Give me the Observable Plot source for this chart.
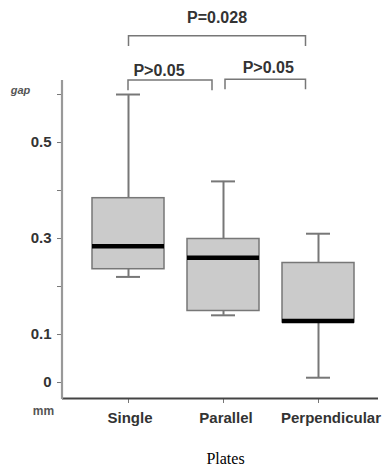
<!DOCTYPE html>
<html><head><meta charset="utf-8">
<script src="https://cdn.jsdelivr.net/npm/d3@7"></script>
<script src="https://cdn.jsdelivr.net/npm/@observablehq/plot@0.6"></script>
<style>
body{margin:0;background:#fff}
#chart svg{display:block}
</style></head><body><div id="chart"></div>
<script>
// ---- data ----
const categories = ["Single", "Parallel", "Perpendicular"];
const whiskerLow = [0.220, 0.140, 0.010];
const quartile1 = [0.236, 0.149, 0.125];
const median = [0.284, 0.260, 0.128];
const quartile3 = [0.384, 0.299, 0.249];
const whiskerHigh = [0.600, 0.419, 0.310];
const yTicks = [0, 0.1, 0.2, 0.3, 0.4, 0.5, 0.6];
const yTickLabels = ["0", "0.1", "", "0.3", "", "0.5", ""];
const comparisonFrom = ["Single", "Parallel", "Single"];
const comparisonTo = ["Parallel", "Perpendicular", "Perpendicular"];
const comparisonLabels = ["P>0.05", "P>0.05", "P=0.028"];
const xTitle = "Plates";
const yUnitTop = "gap";
const yUnitBottom = "mm";

// ---- layout / style ----
const yDomain = [-0.0333, 0.6292];
const xLabelDx = [1.5, 2.5, 12.5];
const bracketLayout = [
  {level: 0.629, drop: 0.021, startDx: 0, endDx: -11, labelDx: -11, labelDy: -4},
  {level: 0.631, drop: 0.021, startDx: 2, endDx: -12.5, labelDx: 3, labelDy: -6},
  {level: 0.7215, drop: 0.0215, startDx: 0.5, endDx: -12.5, labelDx: 0, labelDy: -12.5}
];
const lineColor = "#777";
const textColor = "#333";
const sans = "'Liberation Sans', Arial, sans-serif";

const data = categories.map((c, i) => ({
  cat: c, lo: whiskerLow[i], q1: quartile1[i], med: median[i], q3: quartile3[i], hi: whiskerHigh[i]
}));

const xLabelMarks = categories.map((c, i) => Plot.text([c], {
  x: d => d, frameAnchor: "bottom", dy: 24, dx: xLabelDx[i],
  fontSize: 15, fontWeight: "bold", fill: textColor
}));

const plot = Plot.plot({
  width: 388, height: 472,
  marginLeft: 62, marginRight: 10, marginTop: 80, marginBottom: 74,
  style: {fontFamily: sans, fontSize: "15px", fontWeight: "bold", color: textColor, background: "#fff", overflow: "visible"},
  x: {domain: categories, type: "band", paddingInner: 0.246, paddingOuter: 0.2775, align: 0.557,
      tickSize: 5, tickFormat: () => "", label: null},
  y: {domain: yDomain, ticks: yTicks, tickFormat: d => { const k = yTicks.indexOf(d); return k >= 0 ? yTickLabels[k] : ""; },
      tickSize: 5, tickPadding: 6, label: null},
  marks: [
    Plot.ruleY([yDomain[0]], {stroke: "#444", strokeWidth: 2.2}),
    Plot.ruleX(data, {x: "cat", y1: "q3", y2: "hi", stroke: lineColor, strokeWidth: 2}),
    Plot.ruleX(data, {x: "cat", y1: "lo", y2: "q1", stroke: lineColor, strokeWidth: 2}),
    Plot.tickY(data, {x: "cat", y: "hi", insetLeft: 24, insetRight: 24, stroke: lineColor, strokeWidth: 2}),
    Plot.tickY(data, {x: "cat", y: "lo", insetLeft: 24, insetRight: 24, stroke: lineColor, strokeWidth: 2}),
    Plot.barY(data, {x: "cat", y1: "q1", y2: "q3", fill: "#cbcbcb", stroke: lineColor, strokeWidth: 1.5}),
    Plot.tickY(data, {x: "cat", y: "med", stroke: "#000", strokeWidth: 4.5}),
    ...xLabelMarks,
    Plot.text([xTitle], {frameAnchor: "bottom", dy: 65, dx: 5, fontFamily: "'Liberation Serif', 'Times New Roman', serif",
      fontWeight: "normal", fontSize: 16, fill: "#000"}),
    Plot.text([yUnitTop], {frameAnchor: "top-left", textAnchor: "middle", dx: -42, dy: 6, fontSize: 11,
      fontStyle: "italic", fontWeight: "bold", fill: "#555"}),
    Plot.text([yUnitBottom], {frameAnchor: "bottom-left", textAnchor: "middle", dx: -19, dy: 16, fontSize: 12,
      fontWeight: "bold", fill: "#555"})
  ]
});

const sx = plot.scale("x"), sy = plot.scale("y");
const svg = d3.select(plot);

// y axis line along the left edge of the x range, spanning the y range
svg.append("line")
  .attr("x1", sx.range[0]).attr("x2", sx.range[0])
  .attr("y1", sy.range[1]).attr("y2", sy.range[0] + 1)
  .attr("stroke", "#999").attr("stroke-width", 2.2);

// Significance brackets, positioned through the plot's own x and y scales
const cx = c => sx.apply(c) + sx.bandwidth / 2;
const g = svg.append("g").attr("aria-label", "brackets");
comparisonLabels.forEach((label, i) => {
  const L = bracketLayout[i];
  const x1 = cx(comparisonFrom[i]) + L.startDx;
  const x2 = cx(comparisonTo[i]) + L.endDx;
  const yTop = sy.apply(L.level);
  const yBot = sy.apply(L.level - L.drop);
  g.append("path")
    .attr("d", `M${x1},${yBot}V${yTop}H${x2}V${yBot}`)
    .attr("fill", "none").attr("stroke", lineColor).attr("stroke-width", 1.5);
  g.append("text")
    .attr("x", (x1 + x2) / 2 + L.labelDx).attr("y", yTop + L.labelDy)
    .attr("text-anchor", "middle").attr("font-size", 16).attr("font-weight", "bold")
    .attr("fill", textColor).text(label);
});

// thin grey ticks
svg.selectAll("[aria-label^='x-axis'] line, [aria-label^='y-axis'] line, [aria-label^='x-axis'] path, [aria-label^='y-axis'] path")
  .style("stroke", "#777");

document.getElementById("chart").appendChild(plot);
</script></body></html>
